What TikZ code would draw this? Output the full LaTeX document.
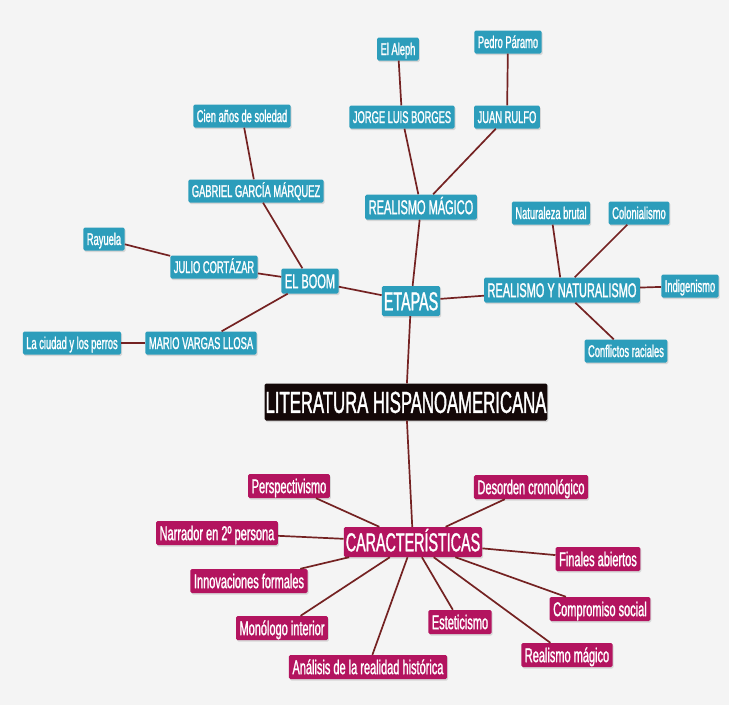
\documentclass[tikz,border=0pt]{standalone}
\usepackage{fontspec}
\setmainfont{Liberation Sans}[FakeStretch=0.55,FakeBold=1.2]
\usetikzlibrary{shadows}

\definecolor{azul}{HTML}{2C9DBB}
\definecolor{rosa}{HTML}{B3145F}
\definecolor{linea}{HTML}{742222}
\definecolor{fondo}{HTML}{F4F4F4}
\definecolor{negro}{HTML}{140808}

\begin{document}
\begin{tikzpicture}
		[x=1pt,y=-1pt,
		box/.style={shape=rectangle,rounded corners=1.5pt,text=white,inner xsep=3.5pt,inner ysep=0pt,text depth=0pt,
			drop shadow={opacity=.25,shadow xshift=1pt,shadow yshift=-1.5pt}},
		blue node/.style={box,fill=azul,font=\fontsize{17}{17}\selectfont,text height=12pt,minimum height=23pt},
		big blue node/.style={box,fill=azul,font=\fontsize{20}{20}\selectfont,text height=14.3pt,minimum height=25pt},
		pink node/.style={box,fill=rosa,font=\fontsize{20}{20}\selectfont,text height=14.3pt,minimum height=24pt},
		title node/.style={box,fill=negro,inner xsep=1pt,font=\fontsize{30.4}{30}\selectfont,text height=21.8pt,minimum height=37pt},
		every edge/.style={draw=linea,line width=1.7pt}
		]
		
		\useasboundingbox (0,0) rectangle (729,705);
		\fill[fondo] (0,0) rectangle (729,705);
		
		% centro
		\node [title node] (lit) at (406,402) {LITERATURA HISPANOAMERICANA};
		
		% etapas
		\node [big blue node,font=\fontsize{26}{26}\selectfont,text height=18.6pt,minimum height=30pt,inner xsep=2pt] (etapas) at (411,301) {ETAPAS};
		\node [big blue node] (rmag) at (421,207) {REALISMO MÁGICO};
		\node [blue node] (borges) at (402,117) {JORGE LUIS BORGES};
		\node [blue node] (rulfo) at (507,117) {JUAN RULFO};
		\node [blue node] (aleph) at (398,49) {El Aleph};
		\node [blue node] (pedro) at (508,42) {Pedro Páramo};
		
		\node [big blue node] (boom) at (310,281) {EL BOOM};
		\node [blue node] (ggm) at (256,191) {GABRIEL GARCÍA MÁRQUEZ};
		\node [blue node] (cien) at (242,116) {Cien años de soledad};
		\node [blue node] (julio) at (214,267) {JULIO CORTÁZAR};
		\node [blue node] (rayuela) at (104,239) {Rayuela};
		\node [blue node] (mario) at (201,343) {MARIO VARGAS LLOSA};
		\node [blue node] (ciudad) at (72,343) {La ciudad y los perros};
		
		\node [big blue node] (ryn) at (562,290) {REALISMO Y NATURALISMO};
		\node [blue node] (natur) at (551,213) {Naturaleza brutal};
		\node [blue node] (colon) at (639,213) {Colonialismo};
		\node [blue node] (indig) at (690,286) {Indigenismo};
		\node [blue node] (confl) at (626,351) {Conflictos raciales};
		
		% caracteristicas
		\node [pink node,font=\fontsize{26}{26}\selectfont,text height=18.6pt,minimum height=30pt,inner xsep=2pt] (carac) at (413,542) {CARACTERÍSTICAS};
		\node [pink node] (persp) at (289,486) {Perspectivismo};
		\node [pink node] (desorden) at (531,487) {Desorden cronológico};
		\node [pink node] (narrador) at (217,533) {Narrador en 2º persona};
		\node [pink node] (innov) at (249,581) {Innovaciones formales};
		\node [pink node] (monol) at (282,628) {Monólogo interior};
		\node [pink node] (analisis) at (368,667) {Análisis de la realidad histórica};
		\node [pink node] (estet) at (460,622) {Esteticismo};
		\node [pink node] (finales) at (598,559) {Finales abiertos};
		\node [pink node] (compro) at (600,609) {Compromiso social};
		\node [pink node] (rmagico) at (567,655) {Realismo mágico};
		
		\path[]
		(lit) edge (etapas)
		(lit) edge (carac)
		(etapas) edge (rmag)
		(etapas) edge (boom)
		(etapas) edge (ryn)
		(rmag) edge (borges)
		(rmag) edge (rulfo)
		(borges) edge (aleph)
		(rulfo) edge (pedro)
		(boom) edge (ggm)
		(boom) edge (julio)
		(boom) edge (mario)
		(ggm) edge (cien)
		(julio) edge (rayuela)
		(mario) edge (ciudad)
		(ryn) edge (natur)
		(ryn) edge (colon)
		(ryn) edge (indig)
		(ryn) edge (confl)
		
		(carac) edge (persp)
		(carac) edge (desorden)
		(carac) edge (narrador)
		(carac) edge (innov)
		(carac) edge (monol)
		(carac) edge (analisis)
		(carac) edge (estet)
		(carac) edge (finales)
		(carac) edge (compro)
		(carac) edge (rmagico)
		;
		
\end{tikzpicture}
\end{document}
